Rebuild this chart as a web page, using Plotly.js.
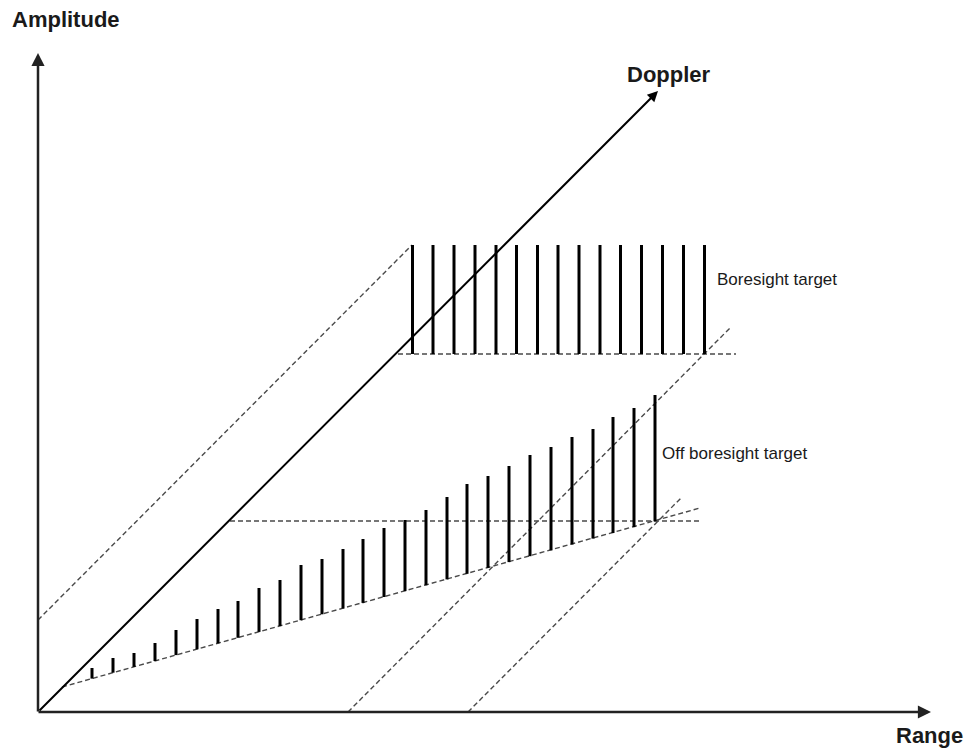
<!DOCTYPE html>
<html><head><meta charset="utf-8">
<script src="https://cdn.plot.ly/plotly-3.0.1.min.js"></script>
<style>html,body{margin:0;padding:0;background:#fff}#c{width:969px;height:748px}</style>
</head><body><div id="c"></div>
<script>
// Schematic in page units (x to the right, y downward as in the picture)
const boresightX = [412.5,433,454,475,496,516.5,537.5,558,579,600,620.5,641.5,662.5,683.5,704.5];
const boresightTop = [245,245,245,245,245,245,245,245,245,245,245,245,245,245,245];
const boresightBase = [354,354,354,354,354,354,354,354,354,354,354,354,354,354,354];

const offX = [92,113,134,155,176,197,218,238,259,280,301,322,343,363,384,405,426,447,467,488,509,530,551,572,593,613,634,655];
const offTop = [668,658,653,643,630,619,609,601,588,580,565,559,549,539,528,520,510,497,484,476,466,455,447,437,429,417,408,395];
const offBase = [678.6,672.7,666.9,661.0,655.1,649.3,643.4,637.8,631.9,626.1,620.2,614.3,608.5,602.9,597.0,591.1,585.3,579.4,573.8,567.9,562.1,556.2,550.3,544.5,538.6,533.0,527.1,521.3];

// dashed guide segments: [x0, y0, x1, y1]
const guideX0 = [38, 398, 348, 230, 62, 468];
const guideY0 = [620, 354, 712, 521, 687, 712];
const guideX1 = [412, 736, 730, 700, 700, 682];
const guideY1 = [245, 354, 328, 521, 508, 497];

const labels = ["Amplitude", "Doppler", "Range", "Boresight target", "Off boresight target"];

function stems(xs, tops, bases) {
  const X = [], Y = [];
  xs.forEach((x, i) => { X.push(x, x, null); Y.push(bases[i], tops[i], null); });
  return {X, Y};
}
const b = stems(boresightX, boresightTop, boresightBase);
const o = stems(offX, offTop, offBase);
const gX = [], gY = [];
guideX0.forEach((x, i) => { gX.push(x, guideX1[i], null); gY.push(guideY0[i], guideY1[i], null); });

const traces = [
  {x: gX, y: gY, mode: 'lines', line: {color: '#4a4a4a', width: 1.4, dash: '5px,3px'}, hoverinfo: 'skip'},
  {x: b.X, y: b.Y, mode: 'lines', line: {color: '#000', width: 3}, hoverinfo: 'skip'},
  {x: o.X, y: o.Y, mode: 'lines', line: {color: '#000', width: 3}, hoverinfo: 'skip'}
];

function arrow(x0, y0, x1, y1, w, col) {
  return {x: x1, y: y1, ax: x0, ay: y0, xref: 'x', yref: 'y', axref: 'x', ayref: 'y',
          text: '', showarrow: true, arrowhead: 2, arrowsize: 1.05, arrowwidth: w, arrowcolor: col, standoff: 0, startstandoff: 0};
}
function label(t, x, y, size, bold) {
  return {x: x, y: y, xref: 'x', yref: 'y', text: bold ? '<b>' + t + '</b>' : t, showarrow: false,
          xanchor: 'left', yanchor: 'middle', font: {family: 'Liberation Sans, Arial, sans-serif', size: size, color: '#1a1a1a'}};
}

const layout = {
  width: 969, height: 748, margin: {l: 0, r: 0, t: 0, b: 0},
  paper_bgcolor: '#fff', plot_bgcolor: '#fff', showlegend: false,
  xaxis: {range: [0, 969], visible: false, fixedrange: true},
  yaxis: {range: [748, 0], visible: false, fixedrange: true},
  annotations: [
    arrow(38, 713, 38, 53, 2.5, '#222'),
    arrow(37, 712, 931, 712, 2.5, '#222'),
    arrow(38, 712, 658, 91, 2, '#000'),
    label(labels[0], 10, 19, 22, true),
    label(labels[1], 625, 74, 22, true),
    label(labels[2], 894, 735, 22, true),
    label(labels[3], 715, 279, 17, false),
    label(labels[4], 660, 453, 17, false)
  ]
};
Plotly.newPlot('c', traces, layout, {displayModeBar: false, staticPlot: true});
</script></body></html>
